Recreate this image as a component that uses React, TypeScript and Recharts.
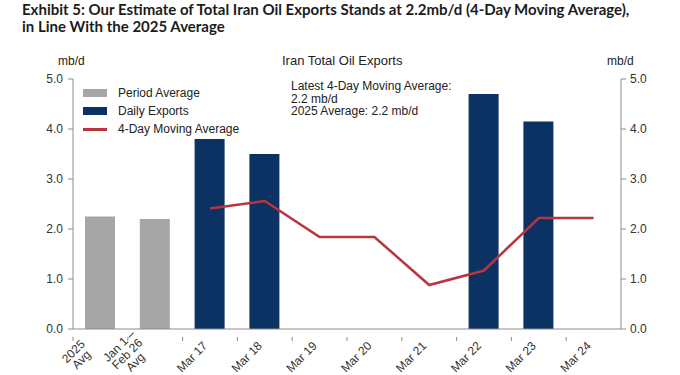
import React from 'react';
import { ComposedChart, Bar, Line, XAxis, YAxis, Cell } from 'recharts';

const categories = [
  '2025\nAvg',
  'Jan 1 –\nFeb 26\nAvg',
  'Mar 17',
  'Mar 18',
  'Mar 19',
  'Mar 20',
  'Mar 21',
  'Mar 22',
  'Mar 23',
  'Mar 24',
];
const periodAverage = [2.25, 2.2, null, null, null, null, null, null, null, null];
const dailyExports = [null, null, 3.8, 3.5, null, null, null, 4.7, 4.15, null];
const movingAverage = [null, null, 2.41, 2.56, 1.84, 1.84, 0.88, 1.17, 2.22, 2.22];
const yTicks = [0, 1, 2, 3, 4, 5];

const GRAY = '#a6a6a6';
const NAVY = '#0b3262';
const RED = '#b8343f';
const AXIS = '#8c8c8c';
const FONT = '"Liberation Sans", Arial, sans-serif';

const PLOT_LEFT = 73;
const PLOT_RIGHT = 621;
const BAND = (PLOT_RIGHT - PLOT_LEFT) / categories.length;

const data = categories.map((name, i) => ({
  name,
  bar: periodAverage[i] ?? dailyExports[i],
  isAvg: periodAverage[i] != null,
  ma: movingAverage[i],
}));

function CategoryTick(props: any) {
  const { x, y, payload } = props;
  const lines = String(payload.value).split('\n');
  const n = lines.length;
  // rotated label block, centred below-left of the category centre
  const cx = x - 18 - (n - 1) * 5;
  const cy = y + 20 - (n - 1) * 1.5;
  return (
    <g>
      <line x1={x - BAND / 2} y1={y} x2={x - BAND / 2} y2={y + 4} stroke={AXIS} strokeWidth={1} />
      <g transform={`translate(${cx},${cy}) rotate(-45)`}>
        {lines.map((l, i) => (
          <text
            key={i}
            x={0}
            y={(i - (n - 1) / 2) * 11.5 + 4}
            textAnchor="middle"
            fontSize={12}
            fill="#333"
            fontFamily={FONT}
          >
            {l}
          </text>
        ))}
      </g>
    </g>
  );
}

const legendRow = (top: number, swatch: React.ReactNode, label: string) => (
  <div style={{ position: 'absolute', left: 83, top, height: 14, display: 'flex', alignItems: 'center' }}>
    <div style={{ width: 24, display: 'flex', alignItems: 'center' }}>{swatch}</div>
    <span style={{ marginLeft: 11, fontSize: 12, color: '#222' }}>{label}</span>
  </div>
);

export default function App() {
  return (
    <div style={{ position: 'absolute', left: 0, top: 0, width: 680, height: 375, background: '#fff', fontFamily: FONT }}>
      <div
        style={{
          position: 'absolute',
          left: 22,
          top: 1,
          width: 660,
          fontFamily: 'Lato, sans-serif',
          fontWeight: 700,
          fontSize: 15,
          lineHeight: '17px',
          color: '#1c1c1c',
        }}
      >
        Exhibit 5: Our Estimate of Total Iran Oil Exports Stands at 2.2mb/d (4-Day Moving Average),
        <br />
        in Line With the 2025 Average
      </div>

      <ComposedChart width={680} height={375} data={data} margin={{ top: 79, right: 0, bottom: 0, left: 0 }}>
        <XAxis
          dataKey="name"
          height={46}
          interval={0}
          axisLine={{ stroke: AXIS }}
          tickLine={false}
          tick={<CategoryTick />}
        />
        <YAxis
          yAxisId="left"
          width={73}
          domain={[0, 5]}
          ticks={yTicks}
          tickFormatter={(v: number) => v.toFixed(1)}
          axisLine={{ stroke: AXIS }}
          tickLine={{ stroke: AXIS }}
          tickSize={5}
          tickMargin={5}
          tick={{ fill: '#333', fontSize: 12, fontFamily: FONT }}
        />
        <YAxis
          yAxisId="right"
          orientation="right"
          width={59}
          domain={[0, 5]}
          ticks={yTicks}
          allowDataOverflow
          tickFormatter={(v: number) => v.toFixed(1)}
          axisLine={{ stroke: AXIS }}
          tickLine={{ stroke: AXIS }}
          tickSize={5}
          tickMargin={4}
          tick={{ fill: '#333', fontSize: 12, fontFamily: FONT }}
        />
        <Bar yAxisId="left" dataKey="bar" barSize={30} isAnimationActive={false}>
          {data.map((d, i) => (
            <Cell key={i} fill={d.isAvg ? GRAY : NAVY} />
          ))}
        </Bar>
        <Line
          yAxisId="left"
          type="linear"
          dataKey="ma"
          stroke={RED}
          strokeWidth={2.5}
          dot={false}
          activeDot={false}
          isAnimationActive={false}
        />
      </ComposedChart>

      <div style={{ position: 'absolute', left: 58, top: 54, fontSize: 12, color: '#222' }}>mb/d</div>
      <div style={{ position: 'absolute', left: 607, top: 54, fontSize: 12, color: '#222' }}>mb/d</div>
      <div style={{ position: 'absolute', left: 282, top: 53, fontSize: 13, color: '#222' }}>Iran Total Oil Exports</div>

      {legendRow(86, <div style={{ width: 24, height: 8, background: GRAY }} />, 'Period Average')}
      {legendRow(104, <div style={{ width: 24, height: 8, background: NAVY }} />, 'Daily Exports')}
      {legendRow(122, <div style={{ width: 24, height: 3, background: RED }} />, '4-Day Moving Average')}

      <div style={{ position: 'absolute', left: 291, top: 80, fontSize: 12, lineHeight: '12.5px', color: '#222' }}>
        Latest 4-Day Moving Average:
        <br />
        2.2 mb/d
        <br />
        2025 Average: 2.2 mb/d
      </div>
    </div>
  );
}
